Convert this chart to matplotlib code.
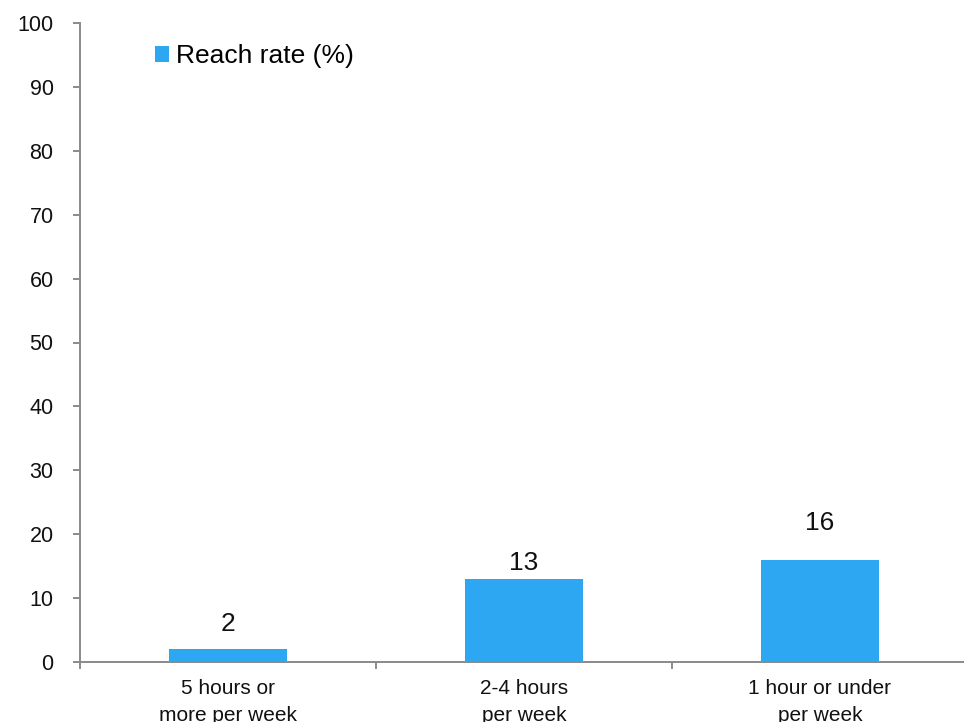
import matplotlib
matplotlib.use("Agg")
import matplotlib.pyplot as plt

# reach rate by weekly hours
categories = ["5 hours or\nmore per week", "2-4 hours\nper week", "1 hour or under\nper week"]
reach_rate = [2, 13, 16]
series_name = "Reach rate (%)"

# label gaps above each bar, in points
label_gaps = [9.5, 2.5, 17.5]

bar_color = "#2EA7F2"
axis_color = "#8A8A8A"

plt.rcParams["font.family"] = ["Liberation Sans", "DejaVu Sans"]

fig = plt.figure(figsize=(9.64, 7.22), dpi=100)
ax = fig.add_axes([80 / 964, 60 / 722, 888 / 964, 639 / 722])

x = range(len(categories))
bars = ax.bar(x, reach_rate, width=0.4, color=bar_color, label=series_name)

for b, v, gap in zip(bars, reach_rate, label_gaps):
    ax.annotate(str(v), (b.get_x() + b.get_width() / 2, v),
                xytext=(0, gap), textcoords="offset points",
                ha="center", va="bottom", fontsize=19, color="#111111")

ax.set_xlim(-0.5, 2.5)
ax.set_ylim(0, 100)
ax.set_yticks(range(0, 101, 10))
ax.set_xticks(list(x))
ax.set_xticklabels(categories, fontsize=15, linespacing=1.5)
ax.set_xticks([-0.5, 0.5, 1.5, 2.5], minor=True)

ax.tick_params(axis="y", direction="out", length=5, width=1.4, color=axis_color,
               labelsize=15.5, pad=14, labelcolor="#111111")
ax.tick_params(axis="x", which="major", length=0, pad=12.5, labelcolor="#111111")
ax.tick_params(axis="x", which="minor", direction="out", length=5, width=1.4,
               color=axis_color)

for side in ["top", "right"]:
    ax.spines[side].set_visible(False)
for side in ["left", "bottom"]:
    ax.spines[side].set_color(axis_color)
    ax.spines[side].set_linewidth(1.4)

ax.legend(loc="upper left", bbox_to_anchor=(0.084, 0.967), frameon=False,
          fontsize=19, handlelength=0.55, handleheight=0.55, handletextpad=0.25,
          borderpad=0, borderaxespad=0)

fig.savefig("out.png", dpi=100)
